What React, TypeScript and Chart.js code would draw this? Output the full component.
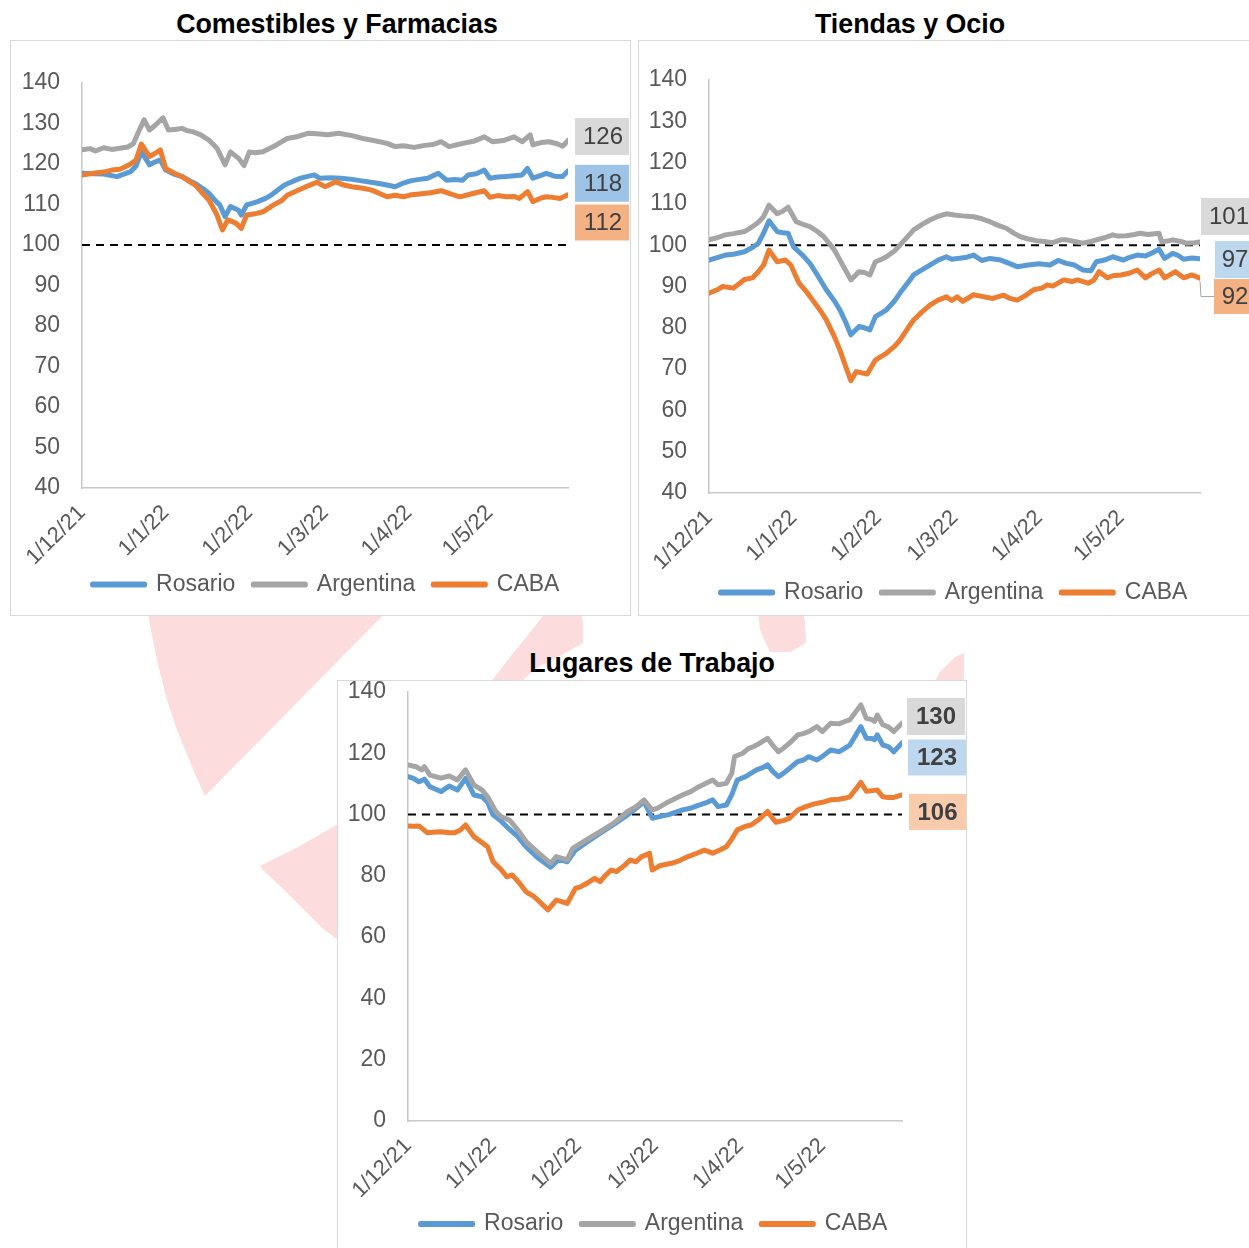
import React, { useEffect, useRef } from "react";
import { Chart, registerables } from "chart.js";

Chart.register(...registerables);

const FONT = "'Liberation Sans', Arial, Helvetica, sans-serif";
Chart.defaults.font.family = FONT;

// ---------- shared axis / legend data ----------
const tickDays = [0, 31, 62, 90, 121, 151];
const tickLabels = ["1/12/21", "1/1/22", "1/2/22", "1/3/22", "1/4/22", "1/5/22"];
const seriesNames = ["Rosario", "Argentina", "CABA"];
const seriesColors = ["#5b9bd5", "#a5a5a5", "#ed7d31"];
const baselineDays = [0, 180];
const baselineValues = [100, 100];

// ---------- Comestibles y Farmacias ----------
const grocRosarioDays = [0, 4, 8, 12, 13, 16, 18, 20, 22, 25, 27, 29, 31, 34, 37, 40, 42, 45, 47, 49, 51, 53, 55, 58, 59, 61, 63, 65, 68, 70, 73, 75, 78, 81, 84, 86, 88, 92, 96, 100, 103, 107, 110, 113, 116, 119, 122, 125, 128, 132, 135, 138, 141, 143, 146, 149, 151, 154, 157, 160, 163, 165, 167, 170, 172, 175, 178, 180];
const grocRosarioVals = [117.7, 117.6, 117.5, 117.0, 116.9, 117.6, 118.1, 119.5, 123.0, 119.8, 120.5, 121.0, 118.5, 117.5, 116.9, 115.8, 115.2, 113.8, 112.8, 111.2, 109.9, 107.0, 109.5, 108.6, 107.4, 109.9, 110.3, 110.7, 111.5, 112.3, 113.8, 114.8, 115.7, 116.5, 117.0, 117.3, 116.5, 116.6, 116.5, 116.2, 115.9, 115.5, 115.2, 114.8, 114.4, 115.3, 115.9, 116.2, 116.5, 117.7, 116.0, 116.2, 116.0, 117.3, 117.6, 118.5, 116.5, 116.8, 116.9, 117.1, 117.3, 118.9, 116.5, 117.2, 117.7, 117.0, 116.9, 118.3];
const grocArgDays = [0, 3, 5, 8, 11, 14, 17, 19, 21, 23, 25, 27, 30, 32, 35, 37, 39, 41, 44, 47, 50, 53, 55, 58, 60, 62, 64, 67, 70, 72, 76, 80, 84, 88, 91, 95, 100, 104, 108, 113, 116, 119, 123, 127, 130, 133, 136, 141, 145, 149, 152, 156, 160, 163, 166, 167, 170, 173, 176, 178, 180];
const grocArgVals = [123.5, 123.8, 123.2, 124.0, 123.6, 123.9, 124.2, 125.0, 128.0, 130.9, 128.4, 129.5, 131.4, 128.4, 128.6, 128.8, 128.2, 128.0, 127.2, 125.9, 123.9, 119.8, 123.0, 121.4, 119.6, 123.0, 122.8, 123.0, 124.0, 124.7, 126.3, 126.8, 127.6, 127.4, 127.2, 127.6, 127.0, 126.3, 125.8, 125.1, 124.3, 124.5, 124.1, 124.6, 124.8, 125.5, 124.3, 125.1, 125.6, 126.7, 125.5, 125.8, 126.7, 125.5, 127.2, 124.7, 125.3, 125.5, 125.0, 124.4, 125.8];
const grocCabaDays = [0, 4, 8, 11, 14, 16, 18, 20, 22, 25, 27, 29, 31, 34, 37, 40, 42, 45, 47, 50, 52, 54, 57, 59, 61, 64, 67, 71, 74, 76, 80, 83, 87, 90, 94, 97, 100, 104, 107, 110, 113, 116, 119, 122, 125, 129, 133, 137, 140, 144, 149, 151, 154, 157, 160, 162, 165, 167, 170, 172, 175, 177, 180];
const grocCabaVals = [117.3, 117.7, 118.0, 118.5, 118.7, 119.3, 120.0, 121.0, 124.9, 121.8, 122.6, 123.5, 118.9, 117.8, 116.9, 115.6, 114.8, 112.5, 111.1, 107.4, 103.7, 106.2, 105.4, 104.1, 107.4, 107.7, 108.2, 109.9, 111.0, 112.3, 113.5, 114.4, 115.5, 114.4, 115.6, 114.8, 114.4, 114.0, 113.6, 112.8, 111.9, 112.3, 111.9, 112.4, 112.6, 112.9, 113.4, 112.5, 111.9, 112.6, 113.4, 111.8, 112.2, 111.9, 112.0, 111.5, 113.2, 110.7, 111.6, 111.9, 111.7, 111.5, 112.4];

// ---------- Tiendas y Ocio ----------
const shopArgDays = [0, 3, 6, 9, 13, 16, 18, 20, 22, 25, 27, 29, 32, 35, 37, 40, 42, 44, 46, 49, 52, 55, 57, 59, 61, 63, 65, 68, 70, 73, 75, 78, 81, 84, 87, 90, 93, 97, 100, 103, 106, 109, 112, 114, 117, 120, 123, 126, 129, 131, 134, 137, 140, 142, 145, 148, 150, 153, 156, 158, 161, 165, 166, 168, 170, 173, 175, 178, 180];
const shopArgVals = [101.3, 101.8, 102.5, 102.8, 103.3, 104.5, 105.5, 106.9, 109.7, 107.6, 108.2, 109.2, 105.7, 104.9, 104.5, 103.2, 102.1, 100.5, 98.8, 95.2, 91.6, 93.6, 93.4, 92.8, 96.0, 96.5, 97.2, 98.6, 100.0, 102.2, 103.7, 105.0, 106.1, 107.0, 107.6, 107.3, 107.1, 106.9, 106.4, 105.7, 104.8, 104.1, 102.8, 102.1, 101.5, 101.1, 100.9, 100.6, 101.3, 101.3, 100.9, 100.5, 100.9, 101.3, 101.8, 102.5, 102.2, 102.3, 102.6, 102.9, 102.6, 102.9, 100.8, 101.0, 101.3, 100.9, 100.5, 100.6, 100.8];
const shopRosarioDays = [0, 3, 6, 9, 13, 16, 18, 20, 22, 25, 27, 29, 31, 34, 37, 40, 43, 46, 48, 50, 52, 55, 57, 59, 61, 63, 65, 68, 70, 73, 75, 78, 81, 84, 87, 89, 91, 94, 97, 100, 103, 107, 110, 113, 117, 121, 125, 128, 131, 134, 137, 140, 142, 145, 148, 152, 154, 157, 160, 162, 165, 167, 170, 172, 174, 177, 180];
const shopRosarioVals = [96.4, 97.0, 97.6, 97.8, 98.4, 99.5, 100.4, 102.9, 105.9, 103.3, 103.0, 102.9, 99.6, 97.8, 95.6, 92.5, 89.2, 86.5, 84.3, 81.5, 78.3, 80.3, 80.0, 79.5, 82.7, 83.5, 84.3, 86.5, 88.4, 91.0, 92.8, 94.0, 95.2, 96.4, 97.2, 96.6, 96.8, 97.0, 97.6, 96.3, 96.8, 96.4, 95.6, 94.8, 95.2, 95.5, 95.2, 96.3, 95.6, 95.2, 94.0, 93.8, 96.0, 96.4, 97.2, 96.4, 97.0, 97.6, 97.4, 98.0, 99.0, 96.8, 98.0, 97.5, 96.6, 96.9, 96.7];
const shopCabaDays = [0, 3, 5, 9, 13, 16, 18, 20, 22, 25, 28, 30, 33, 36, 38, 41, 43, 46, 48, 50, 52, 54, 56, 58, 61, 63, 65, 68, 70, 73, 75, 78, 81, 84, 87, 89, 91, 93, 97, 100, 104, 108, 110, 113, 116, 119, 122, 124, 126, 130, 133, 135, 139, 141, 143, 146, 148, 151, 154, 157, 160, 162, 165, 167, 171, 174, 177, 180];
const shopCabaVals = [88.4, 89.2, 90.0, 89.6, 91.7, 92.1, 93.5, 95.2, 98.8, 96.0, 96.4, 95.2, 90.8, 88.5, 86.7, 84.0, 81.9, 77.8, 74.6, 70.8, 67.2, 69.4, 69.1, 68.8, 72.2, 73.0, 73.8, 75.5, 77.0, 80.0, 81.9, 83.8, 85.5, 86.7, 87.5, 86.6, 87.5, 86.4, 88.0, 87.6, 87.1, 87.9, 87.2, 86.7, 87.8, 89.2, 89.6, 90.4, 90.1, 91.6, 91.2, 91.6, 90.8, 91.5, 93.6, 92.1, 92.6, 92.8, 93.2, 94.0, 92.1, 93.0, 94.0, 92.1, 93.6, 92.1, 92.8, 92.0];

// ---------- Lugares de Trabajo ----------
const workArgDays = [0, 3, 5, 6, 8, 12, 15, 18, 21, 24, 27, 29, 32, 34, 37, 40, 43, 47, 52, 54, 58, 60, 65, 70, 75, 80, 83, 86, 89, 91, 95, 100, 103, 106, 109, 111, 113, 116, 118, 119, 122, 124, 126, 128, 131, 133, 135, 137, 139, 142, 144, 146, 149, 151, 154, 157, 159, 161, 165, 167, 169, 170, 171, 173, 175, 177, 180];
const workArgVals = [116.2, 115.6, 114.6, 115.6, 112.9, 111.9, 112.6, 111.3, 114.6, 109.7, 108.0, 105.8, 101.0, 99.3, 98.2, 95.0, 91.2, 87.9, 84.1, 86.3, 85.2, 89.0, 91.7, 94.4, 97.2, 101.0, 102.5, 104.8, 101.5, 102.1, 104.2, 106.4, 107.5, 109.1, 110.4, 111.3, 109.7, 110.2, 113.5, 118.9, 120.0, 121.5, 122.2, 123.2, 124.9, 122.5, 120.5, 121.8, 123.3, 126.0, 126.4, 127.1, 128.7, 127.1, 129.8, 129.6, 130.3, 130.9, 135.8, 131.4, 131.0, 130.4, 132.5, 129.3, 128.6, 127.1, 129.8];
const workRosarioDays = [0, 2, 4, 6, 8, 12, 15, 18, 21, 24, 27, 29, 31, 34, 36, 40, 43, 47, 52, 55, 58, 61, 65, 70, 75, 80, 83, 86, 89, 92, 95, 100, 103, 106, 109, 111, 113, 116, 118, 120, 123, 127, 129, 131, 133, 135, 137, 139, 142, 144, 146, 149, 151, 154, 157, 159, 161, 165, 167, 169, 170, 171, 173, 175, 177, 180];
const workRosarioVals = [112.4, 111.8, 110.7, 111.5, 109.1, 107.5, 109.3, 108.0, 111.8, 106.4, 105.8, 104.0, 99.9, 97.8, 96.0, 92.8, 89.5, 86.1, 82.8, 85.4, 84.6, 88.4, 90.9, 93.9, 96.8, 99.9, 102.0, 104.2, 98.8, 99.4, 100.0, 101.5, 102.1, 103.1, 104.0, 104.8, 102.6, 103.1, 106.5, 111.3, 112.4, 114.6, 115.2, 116.2, 114.0, 112.4, 113.6, 115.1, 117.3, 117.8, 118.9, 117.8, 119.0, 121.1, 120.5, 121.5, 122.7, 128.7, 124.9, 124.8, 124.4, 126.0, 122.7, 122.2, 120.5, 123.4];
const workCabaDays = [0, 2, 4, 7, 10, 12, 15, 17, 19, 21, 24, 26, 29, 31, 34, 36, 38, 41, 43, 46, 48, 51, 54, 56, 58, 61, 63, 65, 68, 70, 72, 74, 76, 79, 81, 83, 85, 88, 89, 92, 96, 99, 102, 105, 108, 111, 114, 116, 118, 120, 123, 125, 128, 131, 134, 137, 139, 142, 145, 148, 151, 154, 157, 160, 161, 165, 167, 170, 171, 173, 175, 177, 180];
const workCabaVals = [96.3, 96.2, 96.3, 94.1, 94.3, 94.4, 94.1, 94.1, 94.9, 96.6, 92.8, 91.5, 89.5, 84.6, 82.0, 79.7, 80.3, 77.2, 74.8, 73.2, 71.5, 68.9, 72.1, 71.6, 71.0, 75.9, 76.5, 77.5, 79.2, 78.1, 80.2, 81.9, 81.4, 83.5, 85.2, 84.6, 86.2, 87.4, 81.9, 83.4, 84.1, 85.0, 86.3, 87.3, 88.4, 87.4, 88.6, 89.5, 92.0, 95.0, 96.2, 96.6, 98.5, 101.0, 97.5, 98.1, 98.8, 101.5, 102.6, 103.5, 104.0, 104.8, 105.0, 105.5, 105.8, 110.5, 107.6, 107.9, 108.0, 105.8, 105.6, 105.6, 106.4];

// ---------- component ----------
type LabelSpec = { dx: number; dy: number; w: number; h: number; bg: string; leader?: boolean };
type Spec = {
  left: number; top: number; width: number; height: number;
  padL: number; padT: number; padB: number;
  yWidth: number; rWidth: number; xHeight: number;
  yMin: number; yMax: number; yStep: number;
  series: { days: number[]; vals: number[] }[];
  labels: LabelSpec[];
  bold: boolean;
};

const toPoints = (days: number[], vals: number[]) => days.map((d, i) => ({ x: d, y: vals[i] }));

const endLabelPlugin = {
  id: "endLabels",
  afterDatasetsDraw(chart: any, _args: any, opts: any) {
    const specs: LabelSpec[] = opts.specs || [];
    const ctx = chart.ctx;
    specs.forEach((s, i) => {
      const meta = chart.getDatasetMeta(i);
      const last = meta.data[meta.data.length - 1];
      const ds = chart.data.datasets[i];
      const v = ds.data[ds.data.length - 1].y;
      const left = last.x + s.dx;
      const cy = last.y + s.dy;
      ctx.save();
      if (s.leader) {
        ctx.strokeStyle = "#a6a6a6";
        ctx.lineWidth = 1;
        ctx.beginPath();
        ctx.moveTo(last.x, last.y + 3);
        ctx.lineTo(last.x + 1, cy);
        ctx.lineTo(left, cy);
        ctx.stroke();
      }
      ctx.fillStyle = s.bg;
      ctx.fillRect(left, cy - s.h / 2, s.w, s.h);
      ctx.fillStyle = "#404040";
      ctx.font = `${opts.bold ? "bold " : ""}24px ${FONT}`;
      ctx.textAlign = "center";
      ctx.textBaseline = "middle";
      ctx.fillText(String(Math.round(v)), left + s.w / 2, cy + 1);
      ctx.restore();
    });
  },
};

function LineChart({ spec }: { spec: Spec }) {
  const ref = useRef<HTMLCanvasElement | null>(null);
  useEffect(() => {
    if (!ref.current) return;
    const datasets: any[] = spec.series.map((s, i) => ({
      label: seriesNames[i],
      data: toPoints(s.days, s.vals),
      borderColor: seriesColors[i],
      backgroundColor: seriesColors[i],
      borderWidth: 5,
      pointRadius: 0,
      tension: 0,
      borderJoinStyle: "round",
      borderCapStyle: "round",
      order: 3 - i,
    }));
    datasets.push({
      label: "base",
      data: toPoints(baselineDays, baselineValues),
      borderColor: "#000000",
      backgroundColor: "#000000",
      borderWidth: 2,
      borderDash: [8, 6],
      pointRadius: 0,
      order: 5,
    });
    const tickFont = { size: 23, family: FONT };
    const chart = new Chart(ref.current, {
      type: "line",
      data: { datasets },
      plugins: [endLabelPlugin as any],
      options: {
        animation: false,
        responsive: false,
        events: [],
        layout: { padding: { left: spec.padL, top: spec.padT, right: 0, bottom: spec.padB } },
        scales: {
          x: {
            type: "linear",
            min: 0,
            max: 180,
            afterBuildTicks: (s: any) => {
              s.ticks = tickDays.map((v) => ({ value: v }));
            },
            afterFit: (s: any) => {
              s.height = spec.xHeight;
              s.paddingLeft = 0; s.paddingRight = 0; s.paddingTop = 0; s.paddingBottom = 0;
              // let the rotated date labels run below the axis box (into the legend band)
              s._computeLabelArea = () => undefined;
            },
            ticks: {
              autoSkip: false,
              maxRotation: 45,
              minRotation: 45,
              padding: 12,
              color: "#595959",
              font: { size: 22, family: FONT },
              callback: (_v: any, i: number) => tickLabels[i],
            },
            grid: { display: false, drawTicks: false },
            border: { display: true, color: "#c8c8c8", width: 1.5 },
          },
          y: {
            type: "linear",
            position: "left",
            min: spec.yMin,
            max: spec.yMax,
            afterFit: (s: any) => {
              s.width = spec.yWidth;
              s.paddingLeft = 0; s.paddingRight = 0; s.paddingTop = 0; s.paddingBottom = 0;
            },
            ticks: { stepSize: spec.yStep, padding: 22, color: "#595959", font: tickFont },
            grid: { display: false, drawTicks: false },
            border: { display: true, color: "#c8c8c8", width: 1.5 },
          },
          yR: {
            type: "linear",
            position: "right",
            afterFit: (s: any) => {
              s.width = spec.rWidth;
              s.paddingLeft = 0; s.paddingRight = 0; s.paddingTop = 0; s.paddingBottom = 0;
            },
            ticks: { display: false },
            grid: { display: false, drawTicks: false },
            border: { display: false },
          },
        },
        plugins: {
          legend: {
            position: "bottom",
            labels: {
              boxWidth: 52,
              boxHeight: 1,
              padding: 18,
              color: "#595959",
              font: { size: 23, family: FONT },
              filter: (item: any) => item.datasetIndex < 3,
              sort: (a: any, b: any) => a.datasetIndex - b.datasetIndex,
            },
          },
          tooltip: { enabled: false },
          endLabels: { specs: spec.labels, bold: spec.bold },
        } as any,
      },
    });
    return () => chart.destroy();
  }, [spec]);
  return (
    <canvas
      ref={ref}
      width={spec.width}
      height={spec.height}
      style={{ position: "absolute", left: spec.left, top: spec.top, width: spec.width, height: spec.height, display: "block" }}
    />
  );
}

const groceriesSpec: Spec = {
  left: 11, top: 41, width: 618, height: 573,
  padL: 12, padT: 42, padB: 8,
  yWidth: 59, rWidth: 61, xHeight: 67,
  yMin: 40, yMax: 140, yStep: 10,
  series: [
    { days: grocRosarioDays, vals: grocRosarioVals },
    { days: grocArgDays, vals: grocArgVals },
    { days: grocCabaDays, vals: grocCabaVals },
  ],
  labels: [
    { dx: 7, dy: 12.4, w: 56, h: 37, bg: "#9dc3e6" },
    { dx: 7, dy: -4, w: 56, h: 37, bg: "#d9d9d9" },
    { dx: 7, dy: 27.7, w: 56, h: 36, bg: "#f4b183" },
  ],
  bold: false,
};

const shopsSpec: Spec = {
  left: 639, top: 41, width: 630, height: 573,
  padL: 0, padT: 39, padB: 0,
  yWidth: 70, rWidth: 69, xHeight: 70,
  yMin: 40, yMax: 140, yStep: 10,
  series: [
    { days: shopRosarioDays, vals: shopRosarioVals },
    { days: shopArgDays, vals: shopArgVals },
    { days: shopCabaDays, vals: shopCabaVals },
  ],
  labels: [
    { dx: 15, dy: 0.7, w: 40, h: 37, bg: "#bdd7ee" },
    { dx: 1, dy: -25.4, w: 56, h: 37, bg: "#d9d9d9" },
    { dx: 14, dy: 18.3, w: 42, h: 35, bg: "#f4b183", leader: true },
  ],
  bold: false,
};

const workSpec: Spec = {
  left: 338, top: 681, width: 628, height: 567,
  padL: 4, padT: 11, padB: 2.5,
  yWidth: 66, rWidth: 64, xHeight: 73.5,
  yMin: 0, yMax: 140, yStep: 20,
  series: [
    { days: workRosarioDays, vals: workRosarioVals },
    { days: workArgDays, vals: workArgVals },
    { days: workCabaDays, vals: workCabaVals },
  ],
  labels: [
    { dx: 6, dy: 14.6, w: 58, h: 36, bg: "#bdd7ee" },
    { dx: 5, dy: -6.8, w: 58, h: 37, bg: "#d9d9d9" },
    { dx: 7, dy: 17, w: 57, h: 36, bg: "#f8cbad" },
  ],
  bold: true,
};

const titleStyle = (cx: number, top: number): React.CSSProperties => ({
  position: "absolute",
  left: cx,
  top,
  transform: "translateX(-50%)",
  whiteSpace: "nowrap",
  font: `bold 26.8px ${FONT}`,
  lineHeight: "30px",
  color: "#000",
});

const boxStyle = (left: number, top: number, w: number, h: number): React.CSSProperties => ({
  position: "absolute",
  left,
  top,
  width: w,
  height: h,
  border: "1px solid #d9d9d9",
  background: "#fff",
  boxSizing: "border-box",
});

const PINK = "#fcdcdc";

export default function App() {
  return (
    <div style={{ position: "absolute", left: 0, top: 0, width: 1249, height: 1248, overflow: "hidden", background: "#fff" }}>
      <svg width={1249} height={1248} style={{ position: "absolute", left: 0, top: 0 }}>
        <polygon fill={PINK} points="146,600 398,600 205,796 196,776 186,752 177,730 167,700 157,660 150,625" />
        <polygon fill={PINK} points="260,866 300,846 345,820 345,945 322,928 300,906 280,886 265,872" />
        <polygon fill={PINK} points="545,600 580,600 583,625 583,643 560,656 536,668 512,690 482,690 494,678 510,657 528,635 542,617" />
        <polygon fill={PINK} points="757,600 800,600 805,622 806,643 790,652 770,652 760,630" />
        <polygon fill={PINK} points="930,690 940,672 955,657 964,653 964,690" />
      </svg>
      <div style={boxStyle(10, 40, 621, 576)} />
      <div style={boxStyle(638, 40, 632, 576)} />
      <div style={boxStyle(337, 680, 630, 600)} />
      <div style={titleStyle(337, 9)}>Comestibles y Farmacias</div>
      <div style={titleStyle(910, 9)}>Tiendas y Ocio</div>
      <div style={titleStyle(652, 648)}>Lugares de Trabajo</div>
      <LineChart spec={groceriesSpec} />
      <LineChart spec={shopsSpec} />
      <LineChart spec={workSpec} />
    </div>
  );
}
